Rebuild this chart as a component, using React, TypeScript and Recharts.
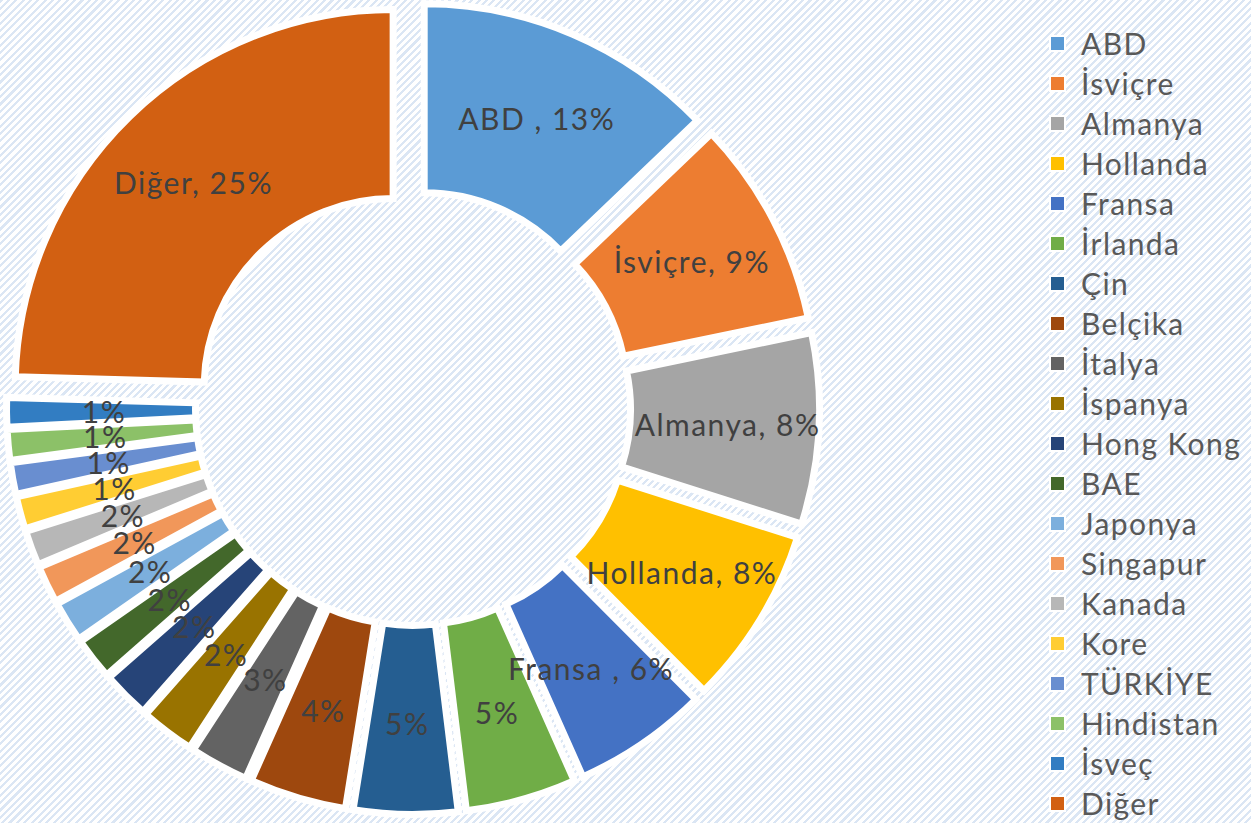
import { PieChart, Pie, Legend, Sector } from 'recharts';

const COUNTRIES = [
  'ABD ', 'İsviçre', 'Almanya', 'Hollanda', 'Fransa ', 'İrlanda', 'Çin', 'Belçika', 'İtalya', 'İspanya',
  'Hong Kong', 'BAE', 'Japonya', 'Singapur', 'Kanada', 'Kore', 'TÜRKİYE', 'Hindistan', 'İsveç', 'Diğer',
];
const SHARES = [13.3, 9.2, 8.45, 7.9, 6.0, 4.9, 4.6, 4.3, 2.6, 2.4, 2.1, 1.85, 1.8, 1.65, 1.55, 1.45, 1.4, 1.35, 1.3, 25.4];
const SHOW_NAME = [true, true, true, true, true, false, false, false, false, false,
  false, false, false, false, false, false, false, false, false, true];
const COLORS = [
  '#5B9BD5', '#ED7D31', '#A5A5A5', '#FFC000', '#4472C4', '#70AD47', '#255E91', '#9E480E', '#636363', '#997300',
  '#264478', '#43682B', '#7CAFDD', '#F1975A', '#B7B7B7', '#FFCD33', '#698ED0', '#8CC168', '#327DC2', '#D26012',
];

const data = COUNTRIES.map((name, i) => ({ name, value: SHARES[i] }));

const RADIAN = Math.PI / 180;
const EXPLODE = 28.5;
const FONT = 'Lato, "Liberation Sans", sans-serif';

// each slice pushed out along its mid angle
const renderSlice = (p: any) => {
  const a = -p.midAngle * RADIAN;
  return (
    <Sector
      cx={p.cx + EXPLODE * Math.cos(a)}
      cy={p.cy + EXPLODE * Math.sin(a)}
      innerRadius={p.innerRadius}
      outerRadius={p.outerRadius}
      startAngle={p.startAngle}
      endAngle={p.endAngle}
      fill={COLORS[p.index]}
      stroke="#fff"
      strokeWidth={7}
    />
  );
};

const renderText = (p: any) => {
  const a = -p.midAngle * RADIAN;
  const small = SHARES[p.index] < 3;
  const r = EXPLODE + (p.innerRadius + p.outerRadius) / 2 + (small ? -3 : 3);
  const pct = `${Math.round(SHARES[p.index])}%`;
  const txt = SHOW_NAME[p.index] ? `${COUNTRIES[p.index]}, ${pct}` : pct;
  return (
    <text
      x={p.cx + r * Math.cos(a)}
      y={p.cy + r * Math.sin(a)}
      textAnchor="middle"
      dominantBaseline="central"
      fill="#404040"
      fontSize={30}
      fontFamily={FONT}
      style={{ letterSpacing: 1.5 }}
    >
      {txt}
    </text>
  );
};

// legend in data order (the default payload is sorted and holds both pies)
const renderLegend = () => (
  <ul style={{ listStyle: 'none', margin: 0, padding: 0 }}>
    {COUNTRIES.map((name, i) => (
      <li key={name} style={{ display: 'flex', alignItems: 'center', height: 40 }}>
        <span style={{ width: 13, height: 13, background: COLORS[i], border: '2px solid #fff', marginRight: 15, flex: 'none' }} />
        <span style={{ fontSize: 30, color: '#595959', letterSpacing: 1.4, fontFamily: FONT, whiteSpace: 'nowrap' }}>{name}</span>
      </li>
    ))}
  </ul>
);

export default function App() {
  return (
    <div
      style={{
        position: 'absolute',
        left: 0,
        top: 0,
        width: 1251,
        height: 823,
        fontFamily: FONT,
        backgroundColor: '#fff',
        backgroundImage: 'repeating-linear-gradient(135deg, #dbe6f4 0px, #dbe6f4 2.2px, #ffffff 2.2px, #ffffff 5.2px)',
      }}
    >
      <PieChart width={1251} height={823} margin={{ top: 0, right: 0, bottom: 0, left: 0 }}>
        <Pie
          data={data}
          dataKey="value"
          nameKey="name"
          cx={413}
          cy={408}
          innerRadius={189}
          outerRadius={378}
          startAngle={90}
          endAngle={-270}
          fill="none"
          stroke="none"
          label={renderSlice}
          labelLine={false}
          legendType="square"
          isAnimationActive={false}
        />
        <Pie
          data={data}
          dataKey="value"
          nameKey="name"
          cx={413}
          cy={408}
          innerRadius={189}
          outerRadius={378}
          startAngle={90}
          endAngle={-270}
          fill="none"
          stroke="none"
          label={renderText}
          labelLine={false}
          legendType="none"
          isAnimationActive={false}
        />
        <Legend
          layout="vertical"
          align="right"
          verticalAlign="top"
          content={renderLegend}
          wrapperStyle={{ left: 1049, top: 23, width: 200 }}
        />
      </PieChart>
    </div>
  );
}
